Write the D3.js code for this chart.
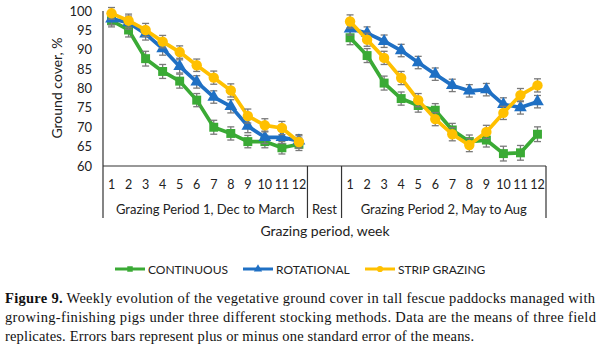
<!DOCTYPE html>
<html>
<head>
<meta charset="utf-8">
<title>Ground cover</title>
<script src="https://cdn.jsdelivr.net/npm/d3@7"></script>
<style>
  body { margin: 0; background: #fff; }
  text { font-family: Lato, "Open Sans", sans-serif; fill: #222; }
  .cap text { font-family: "Liberation Serif", serif; fill: #111; }
</style>
</head>
<body>
<svg width="600" height="349"></svg>
<script>
// weekly ground cover (%) for each stocking method, two grazing periods
var weeks = ["1","2","3","4","5","6","7","8","9","10","11","12"];
var yTicks = [60, 65, 70, 75, 80, 85, 90, 95, 100];

var continuous1 = [97.5, 95.1, 87.7, 84.4, 81.9, 77.0, 70.0, 68.4, 66.3, 66.3, 64.7, 65.6];
var continuous2 = [93.1, 88.5, 81.4, 77.4, 75.6, 74.4, 69.3, 66.3, 66.7, 63.2, 63.4, 68.2];
var rotational1 = [98.0, 97.0, 94.1, 90.3, 85.7, 81.7, 77.8, 75.4, 70.3, 67.4, 67.4, 66.5];
var rotational2 = [95.4, 94.3, 92.2, 89.8, 86.7, 83.7, 80.8, 79.4, 79.7, 75.9, 75.1, 76.6];
var strip1 = [99.4, 97.5, 95.1, 92.1, 89.4, 86.0, 82.8, 79.5, 72.9, 70.5, 69.8, 66.2];
var strip2 = [97.3, 92.6, 87.9, 82.7, 77.0, 72.1, 68.2, 65.4, 68.8, 73.7, 78.3, 80.8];

// standard errors
var seContinuous1 = [1.6, 1.8, 1.9, 1.8, 1.8, 1.7, 1.8, 1.7, 1.6, 1.6, 1.6, 1.6];
var seContinuous2 = [1.8, 1.8, 1.8, 1.7, 1.7, 1.7, 1.7, 1.7, 1.8, 1.9, 1.9, 1.9];
var seRotational1 = [1.6, 1.7, 1.6, 1.7, 1.7, 1.6, 1.6, 1.7, 1.7, 1.6, 1.6, 1.6];
var seRotational2 = [1.6, 1.6, 1.6, 1.6, 1.6, 1.6, 1.6, 1.6, 1.6, 1.7, 1.7, 1.6];
var seStrip1 = [1.5, 1.7, 1.7, 1.6, 1.6, 1.6, 1.7, 1.7, 1.8, 1.7, 1.7, 1.6];
var seStrip2 = [1.7, 1.7, 1.7, 1.7, 1.7, 1.7, 1.7, 1.7, 1.7, 1.7, 1.7, 1.7];

var svg = d3.select("svg");

// 12 weeks, 2 empty rest slots, 12 weeks
var slots = weeks.map(function(w){ return "a" + w; })
  .concat(["r1", "r2"])
  .concat(weeks.map(function(w){ return "b" + w; }));

var x = d3.scaleBand().domain(slots).range([103, 546]);
var y = d3.scaleLinear().domain([60, 100]).range([166, 11]);
var cx = function(k){ return x(k) + x.bandwidth() / 2; };

var series = [
  { name: "CONTINUOUS", color: "#3aaa35", shape: d3.symbolSquare, size: 80,
    parts: [[continuous1, seContinuous1, "a"], [continuous2, seContinuous2, "b"]] },
  { name: "ROTATIONAL", color: "#1f70c4", shape: d3.symbolTriangle, size: 70,
    parts: [[rotational1, seRotational1, "a"], [rotational2, seRotational2, "b"]] },
  { name: "STRIP GRAZING", color: "#ffc000", shape: d3.symbolCircle, size: 85,
    parts: [[strip1, seStrip1, "a"], [strip2, seStrip2, "b"]] }
];

// y axis
var g = svg.append("g");
g.append("line").attr("x1", 103).attr("x2", 103).attr("y1", y(100)).attr("y2", 218)
  .attr("stroke", "#333").attr("stroke-width", 1.2);
g.selectAll(".yt").data(yTicks).enter().append("text")
  .attr("x", 92).attr("y", function(d){ return y(d) + 4.5; })
  .attr("text-anchor", "end").attr("font-size", 13)
  .text(function(d){ return d; });
g.append("text")
  .attr("transform", "translate(62," + 88 + ") rotate(-90)")
  .attr("text-anchor", "middle").attr("font-size", 14)
  .text("Ground cover, %");

// x axis with grouped category labels
g.append("line").attr("x1", 103).attr("x2", 546).attr("y1", 166).attr("y2", 166)
  .attr("stroke", "#333").attr("stroke-width", 1.2);
var seps = [x("r1"), x("b1"), x.range()[1]];
g.selectAll(".sep").data(seps).enter().append("line")
  .attr("x1", function(d){ return d; }).attr("x2", function(d){ return d; })
  .attr("y1", 166).attr("y2", 218)
  .attr("stroke", "#333").attr("stroke-width", 1.2);
g.selectAll(".wk").data(slots.filter(function(k){ return k[0] !== "r"; })).enter().append("text")
  .attr("x", cx).attr("y", 189)
  .attr("text-anchor", "middle").attr("font-size", 12.5)
  .text(function(k){ return k.slice(1); });
var groups = [
  { label: "Grazing Period 1, Dec to March", x0: x("a1"), x1: x("r1") },
  { label: "Rest", x0: x("r1"), x1: x("b1") },
  { label: "Grazing Period 2, May to Aug", x0: x("b1"), x1: x.range()[1] }
];
g.selectAll(".grp").data(groups).enter().append("text")
  .attr("x", function(d){ return (d.x0 + d.x1) / 2; }).attr("y", 214)
  .attr("text-anchor", "middle").attr("font-size", 13)
  .text(function(d){ return d.label; });
g.append("text").attr("x", 325).attr("y", 236)
  .attr("text-anchor", "middle").attr("font-size", 14)
  .text("Grazing period, week");

// series: line, error bars, markers
var line = d3.line().x(function(d){ return cx(d.k); }).y(function(d){ return y(d.v); });
series.forEach(function(s){
  var sg = svg.append("g");
  s.parts.forEach(function(p){
    var pts = p[0].map(function(v, i){ return { k: p[2] + weeks[i], v: v, e: p[1][i] }; });
    sg.append("path").datum(pts).attr("d", line)
      .attr("fill", "none").attr("stroke", s.color).attr("stroke-width", 3.7)
      .attr("stroke-linejoin", "round");
    var eb = sg.selectAll(null).data(pts).enter().append("g").attr("stroke", "#7a7a7a").attr("stroke-width", 1.3);
    eb.append("line").attr("x1", function(d){ return cx(d.k); }).attr("x2", function(d){ return cx(d.k); })
      .attr("y1", function(d){ return y(d.v + d.e); }).attr("y2", function(d){ return y(d.v - d.e); });
    [1, -1].forEach(function(sgn){
      eb.append("line").attr("x1", function(d){ return cx(d.k) - 3.5; }).attr("x2", function(d){ return cx(d.k) + 3.5; })
        .attr("y1", function(d){ return y(d.v + sgn * d.e); }).attr("y2", function(d){ return y(d.v + sgn * d.e); });
    });
    sg.selectAll(null).data(pts).enter().append("path")
      .attr("d", d3.symbol().type(s.shape).size(s.size))
      .attr("transform", function(d){ return "translate(" + cx(d.k) + "," + y(d.v) + ")"; })
      .attr("fill", s.color);
  });
});

// legend
var legX = [115, 243, 365];
var lg = svg.selectAll(".leg").data(series).enter().append("g")
  .attr("transform", function(d, i){ return "translate(" + legX[i] + ",269)"; });
lg.append("line").attr("x1", 0).attr("x2", 30).attr("stroke", function(d){ return d.color; }).attr("stroke-width", 3);
lg.append("path").attr("d", function(d){ return d3.symbol().type(d.shape).size(30)(); })
  .attr("transform", "translate(15,0)").attr("fill", function(d){ return d.color; });
lg.append("text").attr("x", 33).attr("y", 4.5).attr("font-size", 12)
  .text(function(d){ return d.name; });

// caption, justified lines
var cap = svg.append("g").attr("class", "cap");
var c1 = cap.append("text").attr("x", 5).attr("y", 303).attr("font-size", 14.5)
  .attr("textLength", 590).attr("lengthAdjust", "spacing");
c1.append("tspan").attr("font-weight", "bold").text("Figure 9.");
c1.append("tspan").text("  Weekly evolution of the vegetative ground cover in tall fescue paddocks managed with");
cap.append("text").attr("x", 5).attr("y", 322).attr("font-size", 14.5)
  .attr("textLength", 591).attr("lengthAdjust", "spacing")
  .text("growing-finishing pigs under three different stocking methods.  Data are the means of three field");
cap.append("text").attr("x", 5).attr("y", 341).attr("font-size", 14.5)
  .attr("textLength", 469).attr("lengthAdjust", "spacing")
  .text("replicates. Errors bars represent plus or minus one standard error of the means.");
</script>
</body>
</html>
